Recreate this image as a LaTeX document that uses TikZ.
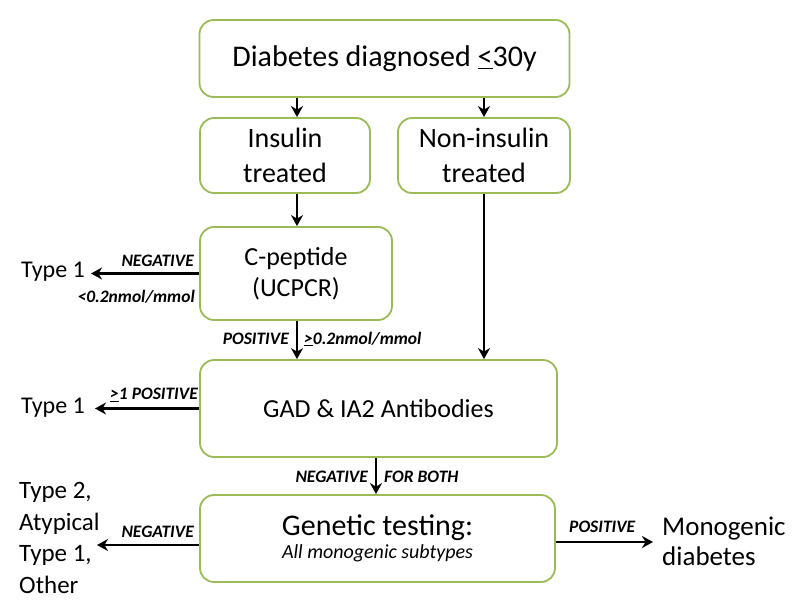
\documentclass[tikz,border=0pt]{standalone}
\usepackage{fontspec}
\setmainfont{Carlito}
\usetikzlibrary{arrows.meta}
\definecolor{boxgreen}{RGB}{155,187,89}
\tikzset{
  box/.style={draw=boxgreen, line width=1.8pt, rounded corners=14pt, align=center, inner sep=0pt, fill=white},
  arr/.style={line width=2.8pt, -{Stealth[length=11pt,width=12pt,inset=3.5pt]}},
  lbl/.style={inner sep=0pt, font=\fontsize{17.5}{20}\selectfont\bfseries\itshape},
  outtxt/.style={inner sep=0pt, align=left},
}
\begin{document}
\begin{tikzpicture}[x=1pt,y=-1pt]
\useasboundingbox[fill=white] (0,0) rectangle (800,611);

% boxes
\node[box, minimum width=370pt, minimum height=77pt, font=\fontsize{30}{36}\selectfont] (top) at (384.5,58.5) {Diabetes diagnosed \underline{<}30y};
\node[box, minimum width=170pt, minimum height=75pt, font=\fontsize{28}{35}\selectfont] (ins) at (285,155.5) {Insulin\\treated};
\node[box, minimum width=172pt, minimum height=75pt, font=\fontsize{28}{35}\selectfont] (non) at (484,155.5) {Non-insulin\\treated};
\node[box, minimum width=192pt, minimum height=93pt, font=\fontsize{26}{31}\selectfont] (cpep) at (296,273.5) {C-peptide\\(UCPCR)};
\node[box, minimum width=357pt, minimum height=97pt, font=\fontsize{26}{31}\selectfont] (gad) at (378.5,408.5) {GAD \& IA2 Antibodies};
\node[box, minimum width=355pt, minimum height=87pt] (gen) at (377.5,538.5) {{\fontsize{30}{31}\selectfont Genetic testing:}\\[3pt]{\fontsize{20}{22}\selectfont\itshape All monogenic subtypes}};

% outcome texts
\node[outtxt, anchor=west, font=\fontsize{24}{29}\selectfont] (t1a) at (21,272) {Type 1};
\node[outtxt, anchor=west, font=\fontsize{24}{29}\selectfont] (t1b) at (21,408) {Type 1};
\node[outtxt, anchor=west, font=\fontsize{25}{31.5}\selectfont] (t2) at (19,538) {Type 2,\\Atypical\\Type 1,\\Other};
\node[outtxt, anchor=west, font=\fontsize{27}{30}\selectfont] (mono) at (662,541) {Monogenic\\diabetes};

% helper positions
\coordinate (xL) at (297,0);
\coordinate (xM) at (376,0);
\coordinate (t2tip) at (97,545);
\coordinate (monoy) at (0,542);

% vertical connectors
\draw[arr] (top.south -| xL) -- (ins.north -| xL);
\draw[arr] (top.south -| non) -- (non.north);
\draw[arr] (ins.south -| xL) -- (cpep.north -| xL);
\draw[arr] (cpep.south -| xL) -- (gad.north -| xL);
\draw[arr] (non.south) -- (gad.north -| non);
\draw[arr] (gad.south -| xM) -- (gen.north -| xM);

% horizontal connectors
\draw[arr] (cpep.west) -- ([xshift=6pt]t1a.east |- cpep.west);
\draw[arr] (gad.west) -- ([xshift=10pt]t1b.east |- gad.west);
\draw[arr] (t2tip -| gen.west) -- (t2tip);
\draw[arr] (monoy -| gen.east) -- ([xshift=-9pt]monoy -| mono.west);

% labels
\node[lbl, anchor=east] (l1) at (194,261) {NEGATIVE};
\node[lbl, anchor=east] (l2) at (195,297) {<0.2nmol/mmol};
\node[lbl, anchor=east] (l3) at (289,339) {POSITIVE};
\node[lbl, anchor=west] (l4) at (304,339) {\underline{>}0.2nmol/mmol};
\node[lbl, anchor=east] (l5) at (198,395) {\underline{>}1 POSITIVE};
\node[lbl, anchor=east] (l6) at (368,477) {NEGATIVE};
\node[lbl, anchor=west] (l7) at (384,477) {FOR BOTH};
\node[lbl, anchor=east] (l8) at (194,532) {NEGATIVE};
\node[lbl, anchor=west] (l9) at (569,527) {POSITIVE};
\end{tikzpicture}
\end{document}
